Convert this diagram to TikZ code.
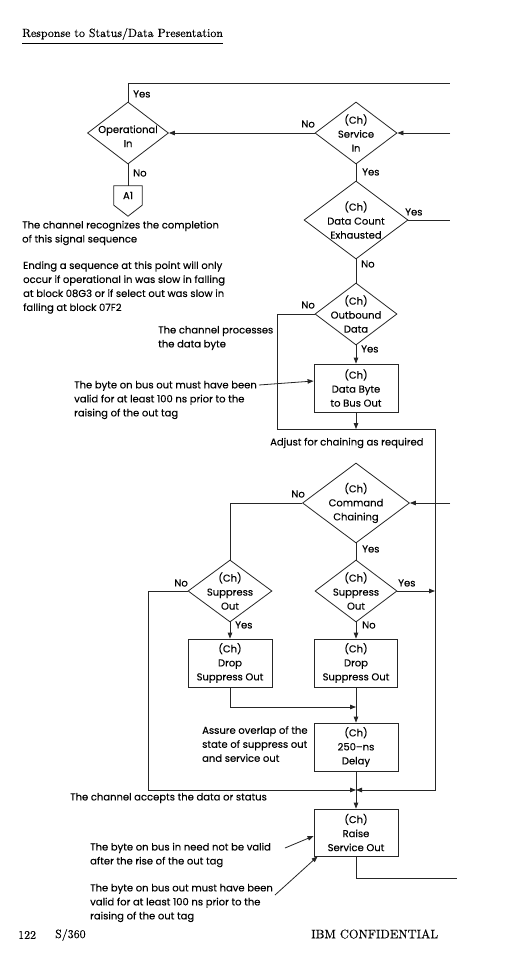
\documentclass[tikz,border=0pt]{standalone}
\usepackage{fontspec}
\newfontfamily\futfont[FakeBold=0.25]{Poppins}
\newfontfamily\serfont{lmroman10-regular.otf}[FakeBold=0.3]
\usetikzlibrary{shapes.geometric,arrows.meta,calc}
\newcommand\labfont{\futfont\fontsize{10}{14}\selectfont}
\begin{document}
\begin{tikzpicture}[x=1pt,y=-1pt,
  ln/.style={line width=0.8pt,draw=black!85},
  arr/.style={ln,-{Triangle[length=6pt,width=4.5pt]}},
  dia/.style={diamond,ln,inner sep=-40pt,align=center,font=\labfont},
  box/.style={rectangle,ln,minimum width=84pt,minimum height=48pt,inner sep=0pt,align=center,font=\labfont},
  ann/.style={anchor=west,align=left,font=\labfont,inner sep=0pt},
  lbl/.style={font=\labfont,inner sep=0pt,anchor=west},
  ser/.style={font=\serfont\fontsize{11.9}{13}\selectfont,inner sep=0pt,anchor=west},
]
\useasboundingbox[fill=white] (0,0) rectangle (526,972);
% title
\node[ser] (title) at (22,34) {Response to Status/Data Presentation};
\draw[line width=0.6pt] (22,43) -- (223,43);
% nodes
\node[dia,minimum width=81pt,minimum height=62pt] (op) at (128,133) {~\\Operational\\In};
\node[dia,minimum width=82pt,minimum height=62pt] (svc) at (356,133) {(Ch)\\Service\\In};
\node[dia,minimum width=104pt,minimum height=78pt] (dce) at (356,220) {(Ch)\\Data Count\\Exhausted};
\node[dia,minimum width=82pt,minimum height=62pt] (obd) at (356,314) {(Ch)\\Outbound\\Data};
\node[box] (dbb) at (356,388) {(Ch)\\Data Byte\\to Bus Out};
\node[dia,minimum width=107pt,minimum height=80pt] (cc) at (356,503) {(Ch)\\Command\\Chaining};
\node[dia,minimum width=84pt,minimum height=62pt] (ss1) at (230,591) {(Ch)\\Suppress\\Out};
\node[dia,minimum width=82pt,minimum height=62pt] (ss2) at (356,591) {(Ch)\\Suppress\\Out};
\node[box] (drop1) at (230,663) {(Ch)\\Drop\\Suppress Out};
\node[box,minimum width=83pt] (drop2) at (356,663) {(Ch)\\Drop\\Suppress Out};
\node[box] (delay) at (356,747) {(Ch)\\250–ns\\Delay};
\node[box,minimum height=47pt] (raise) at (356,832.5) {(Ch)\\Raise\\Service Out};
% off-page connector A1
\node[minimum width=28pt,minimum height=19pt,inner sep=0pt,font=\labfont] (a1) at (128,195.5) {A1};
\draw[ln] (a1.north west) -- (a1.north east) -- (a1.south east) -- ($(a1.south)+(0,11)$) -- (a1.south west) -- cycle;
% coordinates
\coordinate (topR) at (450,83);
\coordinate (svcIn) at (450,133);
\coordinate (dceR) at (450,220);
\coordinate (rc) at (435,429);
\coordinate (ccIn) at (450,503);
\coordinate (j2) at (356,707);
\coordinate (m) at (356,790);
\coordinate (rsOut) at (457,878);
% connectors
\draw[ln] (op.north) |- (topR);
\draw[arr] (svcIn) -- (svc.east);
\draw[arr] (svc.west) -- (op.east);
\draw[ln] (op.south) -- (a1.north);
\draw[ln] (svc.south) -- (dce.north);
\draw[ln] (dce.east) -- (dceR);
\draw[ln] (dce.south) -- (obd.north);
\draw[arr] (obd.south) -- (dbb.north);
\draw[arr] (obd.west) -- ++(-37,0) |- (rc) |- (m);
\draw[arr] (dbb.south) -- (dbb.south |- rc);
\draw[arr] (ccIn) -- (cc.east);
\draw[ln] (cc.west) -| (ss1.north);
\draw[ln] (cc.south) -- (ss2.north);
\draw[arr] (ss1.west) -- ++(-39,0) |- (m);
\draw[arr] (ss1.south) -- (drop1.north);
\draw[arr] (ss2.east) -- (ss2.east -| rc);
\draw[arr] (ss2.south) -- (drop2.north);
\draw[arr] (drop1.south) |- (j2);
\draw[arr] (drop2.south) -- (delay.north);
\draw[arr] (delay.south) -- (raise.north);
\draw[ln] (raise.south) |- (rsOut);
% yes/no labels
\node[lbl] at (133,94) {Yes};
\node[lbl,anchor=east] at (315,124) {No};
\node[lbl] at (133,173) {No};
\node[lbl] at (362,172) {Yes};
\node[lbl] at (405,212) {Yes};
\node[lbl] at (361,264) {No};
\node[lbl,anchor=east] at (315,305) {No};
\node[lbl] at (361,349) {Yes};
\node[lbl,anchor=east] at (305,494) {No};
\node[lbl] at (362,549) {Yes};
\node[lbl,anchor=east] at (188,583) {No};
\node[lbl] at (235,625) {Yes};
\node[lbl] at (398,583) {Yes};
\node[lbl] at (362,625) {No};
% annotations
\node[ann] (t1) at (22,233) {The channel recognizes the completion\\of this signal sequence};
\node[ann] (t2) at (23,287.5) {Ending a sequence at this point will only\\occur if operational in was slow in falling\\at block 08G3 or if select out was slow in\\falling at block 07F2};
\node[ann] (t3) at (158,338) {The channel processes\\the data byte};
\node[ann] (t4) at (74,400) {The byte on bus out must have been\\valid for at least 100 ns prior to the\\raising of the out tag};
\coordinate (a4) at (259,385);
\draw[arr] (a4) -- ($(dbb.west)+(0,-7)$);
\node[ann] (t5) at (270,443) {Adjust for chaining as required};
\node[ann] (t6) at (202,744) {Assure overlap of the\\state of suppress out\\and service out};
\node[ann] (t7) at (70,798) {The channel accepts the data or status};
\node[ann] (t8) at (90,855) {The byte on bus in need not be valid\\after the rise of the out tag};
\coordinate (a8) at (285,848);
\draw[arr] (a8) -- ($(raise.west)+(0,3.5)$);
\node[ann] (t9) at (90,903) {The byte on bus out must have been\\valid for at least 100 ns prior to the\\raising of the out tag};
\coordinate (a9) at (275,895);
\draw[arr] (a9) -- ($(raise.south west)+(4,0)$);
% footer
\node[ser] (pg) at (18,935) {122};
\node[ser] (sys) at (55,935) {S/360};
\node[ser,font=\serfont\fontsize{12.4}{13}\selectfont] (conf) at (311,934) {IBM CONFIDENTIAL};
\end{tikzpicture}
\end{document}
